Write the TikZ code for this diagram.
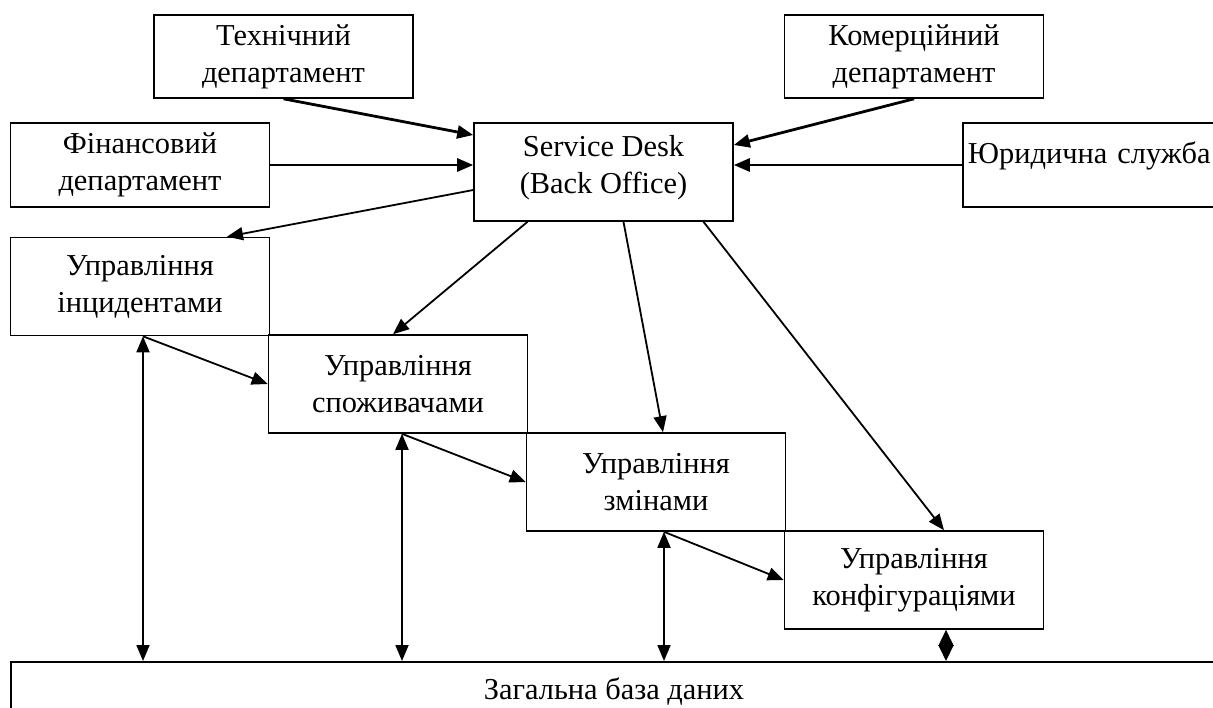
\documentclass[tikz,border=0pt]{standalone}
\usepackage{fontspec}
\setmainfont{Liberation Serif}
\usetikzlibrary{arrows.meta,calc}

\tikzset{
  box/.style={draw, line width=0.8pt, minimum width=129.5pt, minimum height=49pt,
    align=center, inner sep=2pt},
  flow/.style={-{Triangle[length=8pt,width=6.5pt]}, line width=0.9pt},
  inflow/.style={flow, line width=1.4pt},
  both/.style={{Triangle[length=8pt,width=6.5pt]}-{Triangle[length=8pt,width=6.5pt]}, line width=0.9pt},
  diam/.style={{Triangle[length=8pt,width=7.5pt]}-{Triangle[length=8pt,width=7.5pt]}, line width=0.9pt}
}

\begin{document}
\begin{tikzpicture}[x=0.5pt, y=-0.5pt,
    every node/.style={font=\fontsize{15.2pt}{18.5pt}\selectfont}]

        \useasboundingbox (0,0) rectangle (1213,707);
        \clip (0,0) rectangle (1213,707);

        % Departments
        \node[box, minimum height=41.5pt] (tech) at (283.5,56.5) {Технічний\\департамент};
        \node[box, minimum height=41.5pt] (kom) at (914,56.5) {Комерційний\\департамент};
        \node[box, minimum height=42pt] (fin) at (140,165) {Фінансовий\\департамент};
        \node[box, text depth=8pt] (sd) at (603.5,172) {Service Desk\\(Back Office)};
        \node[box, minimum height=42pt, anchor=west, text width=150pt, align=left,
          inner xsep=2.5pt, text depth=12pt] (yur) at (962,165) {Юридична служба};

        % Processes
        \node[box] (inc) at (140,286.5) {Управління\\інцидентами};
        \node[box] (spo) at (398,384) {Управління\\споживачами};
        \node[box] (zmi) at (656,482) {Управління\\змінами};
        \node[box] (kon) at (914,580) {Управління\\конфігураціями};
        \node[box, minimum width=603pt, minimum height=30pt, anchor=north] (baza) at (614,661) {Загальна база даних};

        % Arrows into Service Desk
        \draw[inflow] (tech.south) -- ([yshift=18.5pt]sd.west);
        \draw[inflow] (fin.east) -- (fin.east -| sd.west);
        \draw[inflow] (kom.south) -- ([yshift=13.5pt]sd.east);
        \draw[inflow] (yur.west) -- (yur.west -| sd.east);

        % Arrows out of Service Desk
        \draw[flow] ([yshift=-9pt]sd.west) -- ([xshift=43.5pt]inc.north);
        \draw[flow] ([xshift=-38pt]sd.south) -- ([xshift=-2.5pt]spo.north);
        \draw[flow] ([xshift=10pt]sd.south) -- ([xshift=3.5pt]zmi.north);
        \draw[flow] ([xshift=50pt]sd.south) -- ([xshift=15pt]kon.north);

        % Staircase
        \draw[flow] ([xshift=1.5pt]inc.south) -- (spo.west);
        \draw[flow] ([xshift=2pt]spo.south) -- (zmi.west);
        \draw[flow] ([xshift=4pt]zmi.south) -- (kon.west);

        % Links to the database
        \draw[both] ([xshift=1.5pt]inc.south) -- ([xshift=1.5pt]inc.south |- baza.north);
        \draw[both] ([xshift=2pt]spo.south) -- ([xshift=2pt]spo.south |- baza.north);
        \draw[both] ([xshift=4pt]zmi.south) -- ([xshift=4pt]zmi.south |- baza.north);
        \draw[diam] ([xshift=16pt]kon.south) -- ([xshift=16pt]kon.south |- baza.north);

    \end{tikzpicture}
\end{document}
